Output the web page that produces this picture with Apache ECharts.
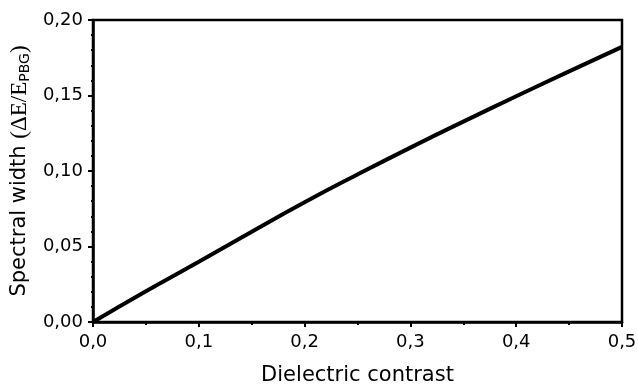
<!DOCTYPE html>
<html>
<head>
<meta charset="utf-8">
<script src="https://cdn.jsdelivr.net/npm/echarts@6/dist/echarts.min.js"></script>
<style>
  html, body { margin: 0; padding: 0; background: #fff; }
  #chart { width: 638px; height: 385px; }
</style>
</head>
<body>
<div id="chart"></div>
<script>
// Dielectric contrast (x) and relative spectral width of the band gap (y)
const contrast = [0, 0.05, 0.10, 0.15, 0.20, 0.25, 0.30, 0.35, 0.40, 0.45, 0.50];
const spectralWidth = [0, 0.0204, 0.0399, 0.0598, 0.0793, 0.0977, 0.1155, 0.1327, 0.1495, 0.1660, 0.1822];
const xTicks = [0, 0.1, 0.2, 0.3, 0.4, 0.5];
const yTicks = [0, 0.05, 0.10, 0.15, 0.20];

const sans = 'DejaVu Sans, Liberation Sans, sans-serif';
const serif = 'Liberation Serif, Times New Roman, serif';
const comma = (v, d) => v.toFixed(d).replace('.', ',');

const chart = echarts.init(document.getElementById('chart'), null, { renderer: 'canvas' });
chart.setOption({
  animation: false,
  backgroundColor: '#fff',
  grid: {
    left: 93, top: 20, right: 16, bottom: 63,
    outerBoundsMode: 'none',
    containLabel: false,
    show: true, borderColor: '#000', borderWidth: 2.5, backgroundColor: 'transparent'
  },
  xAxis: {
    type: 'value',
    min: xTicks[0], max: xTicks[xTicks.length - 1], interval: 0.1,
    name: 'Dielectric contrast',
    nameLocation: 'middle', nameGap: 43,
    nameTextStyle: { fontFamily: sans, fontSize: 21, color: '#000' },
    axisLine: { show: true, lineStyle: { color: '#000', width: 2.5 } },
    axisTick: { show: true, inside: false, length: 5, lineStyle: { color: '#000', width: 2 } },
    minorTick: { show: true, splitNumber: 2, length: 3, lineStyle: { color: '#000', width: 2 } },
    splitLine: { show: false },
    axisLabel: {
      fontFamily: sans, fontSize: 18, color: '#000', margin: 11,
      formatter: v => comma(v, 1)
    }
  },
  yAxis: {
    type: 'value',
    min: yTicks[0], max: yTicks[yTicks.length - 1], interval: 0.05,
    name: '{s|Spectral width }{t|(ΔE/E}{sub|PBG}{t|)}',
    nameLocation: 'middle', nameGap: 61, nameRotate: 90,
    nameTextStyle: {
      color: '#000',
      rich: {
        s: { fontFamily: sans, fontSize: 21, color: '#000' },
        t: { fontFamily: serif, fontSize: 23, color: '#000' },
        sub: { fontFamily: sans, fontSize: 14, color: '#000', verticalAlign: 'bottom', padding: [10, 0, 0, 0] }
      }
    },
    axisLine: { show: true, lineStyle: { color: '#000', width: 2.5 } },
    axisTick: { show: true, inside: false, length: 5, lineStyle: { color: '#000', width: 2 } },
    minorTick: { show: true, splitNumber: 5, length: 2, lineStyle: { color: '#000', width: 2 } },
    splitLine: { show: false },
    axisLabel: {
      fontFamily: sans, fontSize: 18, color: '#000', margin: 10,
      formatter: v => comma(v, 2)
    }
  },
  series: [{
    type: 'line',
    data: contrast.map((x, i) => [x, spectralWidth[i]]),
    smooth: true,
    showSymbol: false,
    lineStyle: { color: '#000', width: 4 },
    clip: true
  }]
});
</script>
</body>
</html>
